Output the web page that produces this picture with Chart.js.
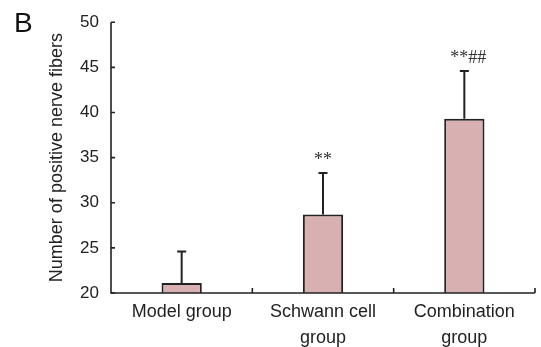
<!DOCTYPE html>
<html>
<head>
<meta charset="utf-8">
<script src="https://cdn.jsdelivr.net/npm/chart.js@4/dist/chart.umd.min.js"></script>
<style>
  html, body { margin: 0; padding: 0; background: #fff; }
  #wrap { width: 541px; height: 347px; position: relative; }
</style>
</head>
<body>
<div id="wrap"><canvas id="c" width="541" height="347"></canvas></div>
<script>
const categories = [["Model group"], ["Schwann cell", "group"], ["Combination", "group"]];
const means = [21.1, 28.7, 39.3];
const sds = [3.5, 4.6, 5.3];
const marks = ["", "**", "**##"];
const yTicks = [20, 25, 30, 35, 40, 45, 50];
const panelLabel = "B";
const yTitle = "Number of positive nerve fibers";

const SANS = '"Liberation Sans", Arial, sans-serif';
const SERIF = '"Liberation Serif", "Times New Roman", serif';
const AXIS = '#222';

const customAxes = {
  id: 'customAxes',
  afterDatasetsDraw(chart) {
    const ctx = chart.ctx;
    const ca = chart.chartArea;
    const x = chart.scales.x, y = chart.scales.y;
    const meta = chart.getDatasetMeta(0);
    ctx.save();
    // error bars
    ctx.strokeStyle = AXIS;
    ctx.lineWidth = 2;
    meta.data.forEach((bar, i) => {
      const top = y.getPixelForValue(means[i] + sds[i]);
      const cx = bar.x;
      ctx.beginPath();
      ctx.moveTo(cx, bar.y);
      ctx.lineTo(cx, top);
      ctx.moveTo(cx - 4.5, top);
      ctx.lineTo(cx + 4.5, top);
      ctx.stroke();
      if (marks[i]) {
        ctx.fillStyle = '#333';
        ctx.font = '18px ' + SERIF;
        ctx.textAlign = 'center';
        ctx.textBaseline = 'middle';
        ctx.fillText(marks[i], cx + (marks[i].length > 2 ? 4 : 0), top - 13);
      }
    });
    // axes
    ctx.lineWidth = 1.6;
    ctx.beginPath();
    ctx.moveTo(ca.left, ca.top);
    ctx.lineTo(ca.left, ca.bottom);
    ctx.lineTo(ca.right, ca.bottom);
    ctx.stroke();
    // y ticks inward
    ctx.beginPath();
    yTicks.forEach(v => {
      const py = y.getPixelForValue(v);
      ctx.moveTo(ca.left, py);
      ctx.lineTo(ca.left + 4, py);
    });
    // x boundary ticks upward
    for (let i = 0; i < categories.length; i++) {
      const px = i < categories.length - 1
        ? (x.getPixelForTick(i) + x.getPixelForTick(i + 1)) / 2
        : ca.right;
      ctx.moveTo(px, ca.bottom);
      ctx.lineTo(px, ca.bottom - 5);
    }
    ctx.stroke();
    // panel label
    ctx.fillStyle = '#111';
    ctx.font = '28px ' + SANS;
    ctx.textAlign = 'left';
    ctx.textBaseline = 'alphabetic';
    ctx.fillText(panelLabel, 14, 32);
    ctx.restore();
  }
};

new Chart(document.getElementById('c'), {
  type: 'bar',
  data: {
    labels: categories,
    datasets: [{
      data: means,
      backgroundColor: '#d9b0b2',
      borderColor: AXIS,
      borderWidth: 2,
      borderSkipped: 'bottom',
      barPercentage: 0.285,
      categoryPercentage: 1.0
    }]
  },
  options: {
    responsive: false,
    animation: false,
    devicePixelRatio: 1,
    layout: { padding: { left: 0, right: 6, top: 20, bottom: 0 } },
    plugins: { legend: { display: false }, tooltip: { enabled: false } },
    scales: {
      x: {
        offset: true,
        grid: { display: false, drawTicks: false },
        border: { display: false },
        ticks: {
          color: '#222',
          padding: 6,
          font: { family: SANS, size: 18, lineHeight: 1.45 },
          maxRotation: 0, autoSkip: false
        },
        afterFit: s => { s.height = 54; }
      },
      y: {
        min: 20, max: 50,
        grid: { display: false, drawTicks: false },
        border: { display: false },
        afterBuildTicks: s => { s.ticks = yTicks.map(v => ({ value: v })); },
        ticks: {
          color: '#222',
          padding: 12,
          font: { family: SANS, size: 17 }
        },
        title: {
          display: true,
          text: yTitle,
          color: '#222',
          font: { family: SANS, size: 18 },
          padding: { top: 46, bottom: 0 }
        },
        afterFit: s => { s.width = 111; }
      }
    }
  },
  plugins: [customAxes]
});
</script>
</body>
</html>
